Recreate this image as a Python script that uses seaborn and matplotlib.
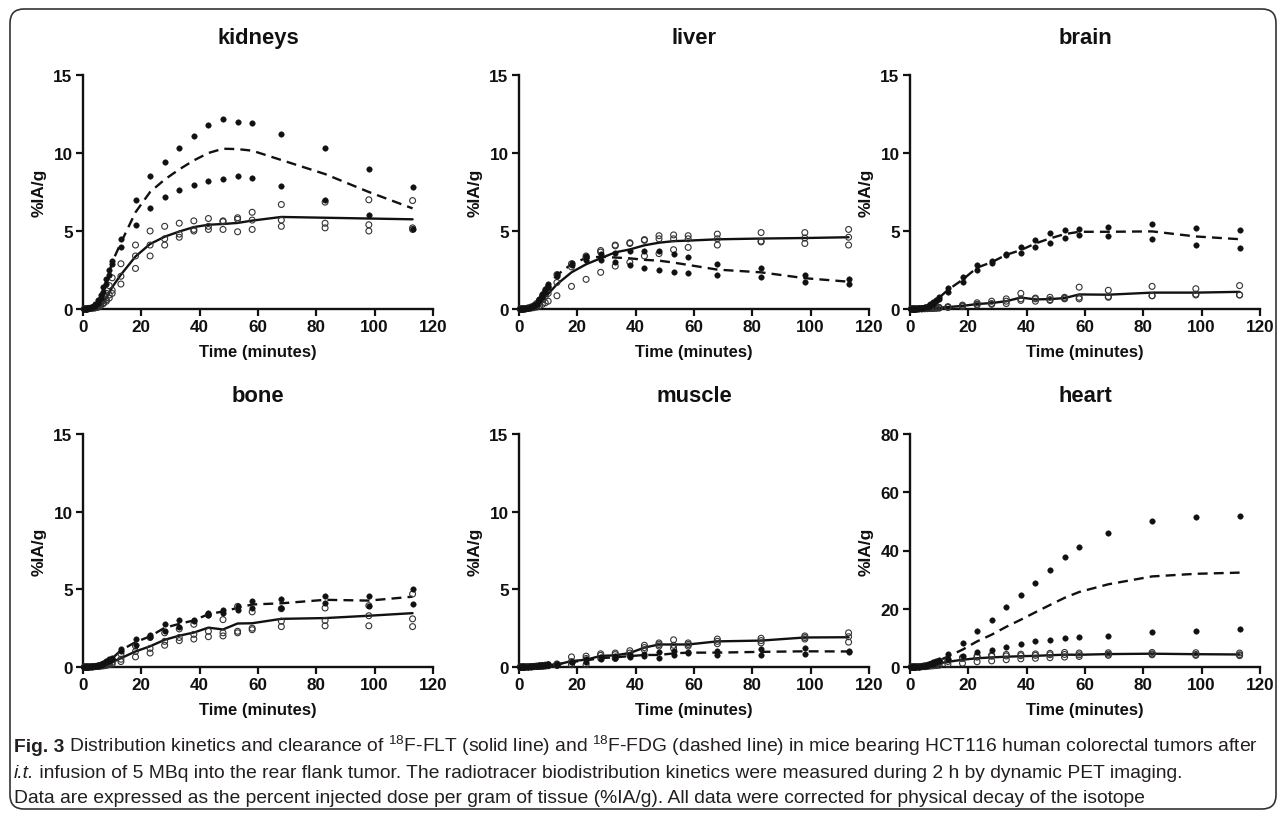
import numpy as np
import pandas as pd
import matplotlib
matplotlib.use("Agg")
import matplotlib.pyplot as plt
import seaborn as sns
from matplotlib.patches import FancyBboxPatch

# ---------------- data ----------------
times = [0.5, 1, 1.5, 2, 3, 4, 5, 6, 7, 8, 9, 10, 13, 18, 23, 28, 33, 38, 43, 48, 53, 58, 68, 83, 98, 113]

organs = ["kidneys", "liver", "brain", "bone", "muscle", "heart"]
tracers = ["FLT", "FDG"]

kidneys_flt = [
    [0.01, 0.02, 0.03, 0.04, 0.07, 0.12, 0.2, 0.35, 0.6, 1.0, 1.5, 2.0, 2.9, 4.1, 5.0, 5.3, 5.5, 5.65, 5.8, 5.65, 5.85, 6.2, 6.7, 6.85, 7.0, 6.95],
    [0.0, 0.01, 0.02, 0.03, 0.05, 0.08, 0.15, 0.25, 0.4, 0.6, 0.9, 1.2, 2.1, 3.4, 4.1, 4.5, 4.8, 5.1, 5.3, 5.6, 5.75, 5.7, 5.7, 5.5, 5.4, 5.2],
    [0.0, 0.01, 0.01, 0.02, 0.04, 0.06, 0.1, 0.2, 0.35, 0.5, 0.7, 1.0, 1.6, 2.6, 3.4, 4.1, 4.6, 5.0, 5.1, 5.1, 4.95, 5.1, 5.3, 5.2, 5.0, 5.1],
]
kidneys_fdg = [
    [0.01, 0.03, 0.05, 0.08, 0.15, 0.3, 0.55, 0.9, 1.4, 1.9, 2.5, 3.1, 4.5, 7.0, 8.5, 9.4, 10.3, 11.1, 11.8, 12.2, 12.0, 11.9, 11.2, 10.3, 9.0, 7.8],
    [0.01, 0.02, 0.03, 0.05, 0.1, 0.2, 0.4, 0.7, 1.1, 1.6, 2.2, 2.9, 4.0, 5.4, 6.5, 7.2, 7.6, 7.95, 8.2, 8.35, 8.5, 8.4, 7.9, 7.0, 6.0, 5.1],
]
liver_flt = [
    [0.0, 0.01, 0.02, 0.03, 0.06, 0.12, 0.2, 0.35, 0.55, 0.8, 1.1, 1.4, 2.2, 2.9, 3.4, 3.75, 4.1, 4.25, 4.45, 4.7, 4.75, 4.7, 4.8, 4.9, 4.9, 5.1],
    [0.0, 0.01, 0.02, 0.03, 0.05, 0.08, 0.15, 0.25, 0.4, 0.6, 0.8, 1.0, 1.7, 2.7, 3.3, 3.65, 4.05, 4.2, 4.4, 4.5, 4.5, 4.5, 4.5, 4.35, 4.55, 4.6],
    [0.0, 0.0, 0.01, 0.02, 0.03, 0.05, 0.08, 0.12, 0.2, 0.3, 0.4, 0.5, 0.85, 1.45, 1.9, 2.35, 2.75, 3.0, 3.4, 3.55, 3.8, 3.95, 4.1, 4.3, 4.2, 4.1],
]
liver_fdg = [
    [0.0, 0.01, 0.03, 0.04, 0.07, 0.14, 0.25, 0.4, 0.65, 0.95, 1.3, 1.6, 2.25, 2.95, 3.4, 3.55, 3.6, 3.7, 3.7, 3.7, 3.55, 3.35, 2.9, 2.65, 2.2, 1.9],
    [0.0, 0.01, 0.02, 0.03, 0.05, 0.1, 0.2, 0.35, 0.55, 0.8, 1.1, 1.4, 2.1, 2.8, 3.15, 3.15, 3.0, 2.8, 2.6, 2.5, 2.4, 2.3, 2.15, 2.05, 1.75, 1.6],
]
brain_flt = [
    [0.0, 0.01, 0.01, 0.01, 0.01, 0.02, 0.03, 0.04, 0.05, 0.06, 0.08, 0.1, 0.15, 0.25, 0.4, 0.5, 0.65, 1.0, 0.7, 0.75, 0.75, 1.4, 1.2, 1.45, 1.3, 1.5],
    [0.0, 0.0, 0.01, 0.01, 0.01, 0.02, 0.02, 0.03, 0.04, 0.05, 0.06, 0.08, 0.12, 0.2, 0.3, 0.35, 0.5, 0.65, 0.65, 0.6, 0.7, 0.75, 0.8, 0.85, 0.95, 0.9],
    [0.0, 0.0, 0.0, 0.0, 0.01, 0.01, 0.02, 0.02, 0.03, 0.04, 0.05, 0.06, 0.1, 0.15, 0.25, 0.3, 0.35, 0.55, 0.5, 0.55, 0.65, 0.65, 0.75, 0.85, 0.9, 0.9],
]
brain_fdg = [
    [0.0, 0.01, 0.02, 0.03, 0.05, 0.08, 0.12, 0.2, 0.3, 0.45, 0.6, 0.8, 1.35, 2.05, 2.8, 3.05, 3.5, 3.95, 4.4, 4.85, 5.05, 5.15, 5.25, 5.45, 5.2, 5.05],
    [0.0, 0.01, 0.02, 0.02, 0.04, 0.06, 0.1, 0.15, 0.25, 0.35, 0.5, 0.65, 1.1, 1.7, 2.5, 2.95, 3.45, 3.6, 4.0, 4.2, 4.55, 4.75, 4.65, 4.5, 4.1, 3.9],
]
bone_flt = [
    [0.0, 0.01, 0.01, 0.01, 0.02, 0.04, 0.06, 0.1, 0.16, 0.25, 0.35, 0.45, 0.85, 1.35, 1.9, 2.2, 2.45, 2.75, 3.35, 3.05, 3.9, 3.55, 3.75, 3.8, 3.95, 4.7],
    [0.0, 0.0, 0.01, 0.01, 0.02, 0.03, 0.04, 0.07, 0.1, 0.15, 0.22, 0.3, 0.5, 1.0, 1.2, 1.65, 1.9, 2.1, 2.3, 2.2, 2.3, 2.5, 2.95, 3.0, 3.3, 3.1],
    [0.0, 0.0, 0.0, 0.0, 0.01, 0.02, 0.03, 0.05, 0.07, 0.1, 0.15, 0.2, 0.35, 0.65, 0.9, 1.4, 1.7, 1.8, 1.95, 2.0, 2.2, 2.4, 2.6, 2.65, 2.65, 2.6],
]
bone_fdg = [
    [0.0, 0.0, 0.01, 0.02, 0.04, 0.07, 0.12, 0.18, 0.28, 0.4, 0.5, 0.6, 1.15, 1.8, 2.05, 2.75, 3.0, 3.05, 3.45, 3.65, 3.9, 4.25, 4.4, 4.55, 4.6, 5.0],
    [0.0, 0.0, 0.01, 0.02, 0.03, 0.05, 0.09, 0.14, 0.22, 0.3, 0.4, 0.5, 1.0, 1.4, 1.9, 2.3, 2.55, 2.95, 3.35, 3.5, 3.7, 3.8, 3.8, 4.1, 3.95, 4.05],
]
muscle_flt = [
    [0.0, 0.01, 0.01, 0.01, 0.02, 0.03, 0.04, 0.06, 0.08, 0.1, 0.12, 0.15, 0.2, 0.65, 0.7, 0.85, 0.9, 1.05, 1.4, 1.55, 1.75, 1.55, 1.8, 1.85, 2.0, 2.2],
    [0.0, 0.0, 0.01, 0.01, 0.01, 0.02, 0.03, 0.04, 0.05, 0.07, 0.08, 0.1, 0.15, 0.35, 0.55, 0.75, 0.8, 0.9, 1.25, 1.45, 1.4, 1.45, 1.65, 1.7, 1.9, 1.95],
    [0.0, 0.0, 0.0, 0.0, 0.01, 0.02, 0.02, 0.03, 0.04, 0.05, 0.06, 0.08, 0.1, 0.15, 0.15, 0.55, 0.55, 0.75, 1.1, 1.35, 1.2, 1.35, 1.5, 1.55, 1.8, 1.6],
]
muscle_fdg = [
    [0.0, 0.01, 0.01, 0.02, 0.03, 0.04, 0.06, 0.08, 0.1, 0.12, 0.15, 0.18, 0.2, 0.35, 0.5, 0.65, 0.7, 0.75, 0.85, 0.95, 1.0, 0.95, 1.05, 1.15, 1.2, 1.05],
    [0.0, 0.0, 0.01, 0.01, 0.02, 0.03, 0.04, 0.05, 0.07, 0.08, 0.1, 0.12, 0.15, 0.3, 0.35, 0.5, 0.55, 0.65, 0.7, 0.6, 0.75, 0.9, 0.8, 0.8, 0.82, 0.95],
]
heart_flt = [
    [0.01, 0.02, 0.04, 0.06, 0.12, 0.22, 0.4, 0.6, 0.9, 1.2, 1.5, 1.8, 2.5, 3.3, 3.8, 4.1, 4.3, 4.4, 4.5, 4.7, 5.0, 4.8, 4.9, 5.0, 4.9, 4.8],
    [0.01, 0.02, 0.03, 0.05, 0.1, 0.18, 0.3, 0.45, 0.7, 0.9, 1.1, 1.4, 1.9, 2.9, 3.4, 3.7, 3.8, 3.9, 4.0, 4.2, 4.3, 4.2, 4.4, 4.5, 4.3, 4.2],
    [0.0, 0.01, 0.02, 0.02, 0.05, 0.08, 0.12, 0.2, 0.3, 0.4, 0.5, 0.6, 0.9, 1.3, 1.8, 2.1, 2.5, 2.8, 3.0, 3.2, 3.4, 3.6, 4.0, 4.2, 4.0, 3.9],
]
heart_fdg = [
    [0.01, 0.03, 0.05, 0.08, 0.15, 0.25, 0.45, 0.7, 1.1, 1.6, 2.0, 2.5, 4.5, 8.1, 12.4, 16.2, 20.6, 24.7, 28.8, 33.4, 37.7, 41.3, 46.0, 50.2, 51.5, 51.8],
    [0.01, 0.02, 0.03, 0.05, 0.1, 0.2, 0.35, 0.6, 0.9, 1.2, 1.6, 2.0, 2.7, 3.8, 5.2, 6.0, 7.0, 7.8, 8.8, 9.2, 9.8, 10.2, 10.8, 12.0, 12.5, 13.0],
]

series = {
    ("kidneys", "FLT"): kidneys_flt, ("kidneys", "FDG"): kidneys_fdg,
    ("liver", "FLT"): liver_flt, ("liver", "FDG"): liver_fdg,
    ("brain", "FLT"): brain_flt, ("brain", "FDG"): brain_fdg,
    ("bone", "FLT"): bone_flt, ("bone", "FDG"): bone_fdg,
    ("muscle", "FLT"): muscle_flt, ("muscle", "FDG"): muscle_fdg,
    ("heart", "FLT"): heart_flt, ("heart", "FDG"): heart_fdg,
}

rows = []
for (organ, tracer), animals in series.items():
    for k, vals in enumerate(animals):
        for t, v in zip(times, vals):
            rows.append({"organ": organ, "tracer": tracer, "animal": k, "time": t, "value": v})
df = pd.DataFrame(rows)

yticks = {"kidneys": [0, 5, 10, 15], "liver": [0, 5, 10, 15], "brain": [0, 5, 10, 15],
          "bone": [0, 5, 10, 15], "muscle": [0, 5, 10, 15], "heart": [0, 20, 40, 60, 80]}
xticks = [0, 20, 40, 60, 80, 100, 120]

# ---------------- style ----------------
sns.set_theme(style="ticks")
plt.rcParams["font.family"] = ["Liberation Sans", "DejaVu Sans"]
plt.rcParams["mathtext.fontset"] = "custom"
plt.rcParams["mathtext.rm"] = "Liberation Sans"
plt.rcParams["mathtext.it"] = "Liberation Sans:italic"
plt.rcParams["mathtext.bf"] = "Liberation Sans:bold"

W, H = 1285, 820
fig = plt.figure(figsize=(W / 100, H / 100), dpi=100)
fig.patch.set_facecolor("white")

ink = "#111111"
layout = {"kidneys": (83, 310, 234), "liver": (519, 310, 234), "brain": (910, 310, 234),
          "bone": (83, 668, 233), "muscle": (519, 668, 233), "heart": (910, 668, 233)}
AXW = 350

for organ in organs:
    x0, y0, h = layout[organ]
    ax = fig.add_axes([x0 / W, 1 - y0 / H, AXW / W, h / H])
    sub = df[df.organ == organ]
    flt = sub[sub.tracer == "FLT"]
    fdg = sub[sub.tracer == "FDG"]

    sns.lineplot(data=flt, x="time", y="value", estimator="mean", errorbar=None,
                 color=ink, linewidth=1.7, ax=ax, zorder=2)
    sns.lineplot(data=fdg, x="time", y="value", estimator="mean", errorbar=None,
                 color=ink, linewidth=1.7, linestyle=(0, (4.2, 2.6)), ax=ax, zorder=2)
    sns.scatterplot(data=flt, x="time", y="value", color="white", edgecolor="#333333",
                    linewidth=0.8, s=18, marker="o", ax=ax, zorder=3, clip_on=False, legend=False)
    ax.collections[-1].set_facecolor("none")
    sns.scatterplot(data=fdg, x="time", y="value", color=ink, edgecolor=ink,
                    linewidth=0.3, s=16, marker="o", ax=ax, zorder=4, clip_on=False, legend=False)

    yt = yticks[organ]
    ax.set_xlim(0, 120)
    ax.set_ylim(0, yt[-1])
    ax.set_xticks(xticks)
    ax.set_yticks(yt)
    ax.set_xticklabels([str(v) for v in xticks], fontweight="bold")
    ax.set_yticklabels([str(v) for v in yt], fontweight="bold")
    ax.tick_params(direction="out", length=5, width=1.6, labelsize=12.3, pad=2.5, colors=ink)
    sns.despine(ax=ax)
    for s in ("left", "bottom"):
        ax.spines[s].set_linewidth(1.7)
        ax.spines[s].set_color(ink)

    ax.set_xlabel("Time (minutes)", fontsize=12, fontweight="bold", color=ink)
    ax.xaxis.set_label_coords(0.5, -43 / h)
    ax.xaxis.label.set_va("center")
    ax.set_ylabel("%IA/g", fontsize=12.5, fontweight="bold", color=ink)
    ax.yaxis.set_label_coords(-44 / AXW, 0.5)
    ax.yaxis.label.set_va("center")
    ax.text(0.5, 1 + 38 / h, organ, transform=ax.transAxes, ha="center", va="center",
            fontsize=15.8, fontweight="bold", color=ink)

# ---------------- caption ----------------
cap_color = "#231f20"
cap_runs = [
    [("Fig. 3", {"fontweight": "bold"}),
     (r" Distribution kinetics and clearance of $^{18}$F-FLT (solid line) and $^{18}$F-FDG (dashed line) in mice bearing HCT116 human colorectal tumors after", {})],
    [("i.t.", {"fontstyle": "italic"}),
     (" infusion of 5 MBq into the rear flank tumor. The radiotracer biodistribution kinetics were measured during 2 h by dynamic PET imaging.", {})],
    [("Data are expressed as the percent injected dose per gram of tissue (%IA/g). All data were corrected for physical decay of the isotope", {})],
]
cap_base = [752, 778, 803]
renderer = fig.canvas.get_renderer()


def place_line(runs, y_px, size):
    x = 14.0
    made = []
    for txt, kw in runs:
        t = fig.text(x / W, 1 - y_px / H, txt, ha="left", va="baseline",
                     fontsize=size, color=cap_color, **kw)
        made.append(t)
        x = t.get_window_extent(renderer).x1
    return made, x


probe, end = place_line(cap_runs[0], cap_base[0], 12)
for t in probe:
    t.remove()
cap_size = 12 * (1254 - 14) / (end - 14)
for runs, yb in zip(cap_runs, cap_base):
    place_line(runs, yb, cap_size)

border = FancyBboxPatch((0.10, 0.10), 12.66, 8.0,
                        boxstyle="round,pad=0,rounding_size=0.14",
                        transform=fig.dpi_scale_trans, fill=False,
                        edgecolor="#333333", linewidth=1.2)
fig.add_artist(border)

fig.savefig("out.png", dpi=100, facecolor="white")
